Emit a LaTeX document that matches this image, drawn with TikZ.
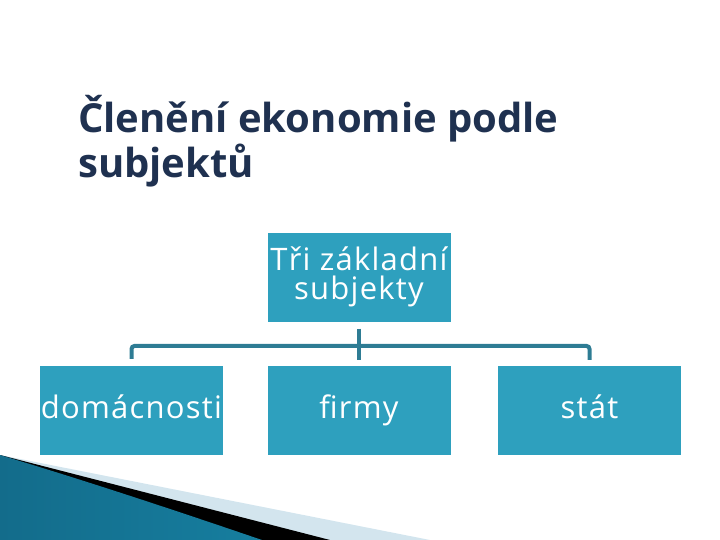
\documentclass[tikz,border=0pt]{standalone}
\usepackage{fontspec}
\setmainfont{Open Sans}[LetterSpace=4]
\newfontfamily\titlefont{Open Sans}
\usetikzlibrary{calc}
\definecolor{boxblue}{HTML}{2EA0BE}
\definecolor{linkblue}{HTML}{2E7C94}
\definecolor{navy}{HTML}{1F3150}
\definecolor{paleblue}{HTML}{D3E5EE}
\definecolor{deepteal}{HTML}{136C8B}
\definecolor{skyteal}{HTML}{55B8DA}
\definecolor{midteal}{HTML}{167E9F}

\begin{document}
\begin{tikzpicture}[
  x=1pt,y=-1pt,
  heading/.style={anchor=base west,inner sep=0pt,text=navy,
    font={\titlefont\bfseries\fontsize{40}{46}\selectfont}},
  subject/.style={fill=boxblue,text=white,minimum width=183pt,
    minimum height=89pt,inner sep=1pt,align=center,
    font={\fontsize{31}{29}\selectfont}},
  leaf/.style={subject,text height=23pt,text depth=8pt},
  link/.style={draw=linkblue,line width=4pt,shorten <=7pt,shorten >=6pt},
  ]
  \useasboundingbox (0,0) rectangle (720,540);
  % Title
  \node[heading] (title) at (78,133) {Členění ekonomie podle};
  \node[heading] (title2) at (78,178) {subjektů};
  % Root and the three subjects
  \node[subject] (root) at (359,277) {Tři základní\\subjekty};
  \node[leaf] (home) at (131.5,410.5) {domácnosti};
  \node[leaf] (firm) at (359,410.5) {firmy};
  \node[leaf] (state) at (589.5,410.5) {stát};
  % Connectors
  \coordinate (hub) at ($(root.south)!0.55!(firm.north)$);
  \draw[link] (root.south) -- (firm.north);
  \draw[link,rounded corners=3pt] (home.north) |- (hub) -| (state.north);
  % Corner swoosh
  \fill[paleblue] (0,455) -- (430,540) -- (0,540) -- cycle;
  \fill[black] (0,455) -- (330,540) -- (0,540) -- cycle;
  \shade[left color=deepteal,middle color=skyteal,right color=midteal]
    (0,455) .. controls (90,482) and (180,512) .. (262,540) -- (0,540) -- cycle;
\end{tikzpicture}
\end{document}
